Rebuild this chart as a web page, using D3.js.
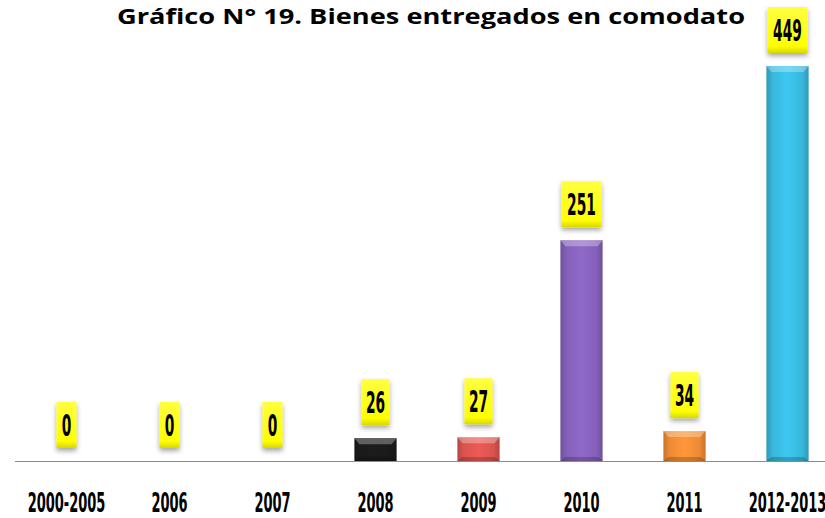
<!DOCTYPE html>
<html><head><meta charset="utf-8">
<script src="https://cdn.jsdelivr.net/npm/d3@7"></script>
<style>html,body{margin:0;padding:0;background:#fff;overflow:hidden}</style>
</head><body>
<svg id="chart" width="825" height="518"></svg>
<script>
const categories = ["2000-2005","2006","2007","2008","2009","2010","2011","2012-2013"];
const values = [0,0,0,26,27,251,34,449];
const barColors = ["#1a1a1a","#1a1a1a","#1a1a1a","#1a1a1a","#d9534f","#8460b8","#ee8a35","#38b7dc"];
const title = "Gráfico N° 19. Bienes entregados en comodato";

const svg = d3.select("#chart");
const W = 825, H = 518;
const x = d3.scaleBand().domain(categories).range([15, 839]).paddingInner(0.59).paddingOuter(0.295);
const y = d3.scaleLinear().domain([0, 449]).range([461, 66]);

const defs = svg.append("defs");
categories.forEach((c, i) => {
  const base = d3.color(barColors[i]);
  const g = defs.append("linearGradient").attr("id", "g" + i).attr("x1", 0).attr("x2", 1).attr("y1", 0).attr("y2", 0);
  g.append("stop").attr("offset", "0%").attr("stop-color", base.darker(0.5));
  g.append("stop").attr("offset", "15%").attr("stop-color", base);
  g.append("stop").attr("offset", "50%").attr("stop-color", base.brighter(0.25));
  g.append("stop").attr("offset", "85%").attr("stop-color", base);
  g.append("stop").attr("offset", "100%").attr("stop-color", base.darker(0.5));
});
const yg = defs.append("linearGradient").attr("id", "yel").attr("x1", 0).attr("x2", 0).attr("y1", 0).attr("y2", 1);
yg.append("stop").attr("offset", "0%").attr("stop-color", "#ffff40");
yg.append("stop").attr("offset", "85%").attr("stop-color", "#ffff00");
yg.append("stop").attr("offset", "100%").attr("stop-color", "#d8d800");
const sh = defs.append("filter").attr("id", "sh").attr("x", "-50%").attr("y", "-50%").attr("width", "200%").attr("height", "200%");
sh.append("feDropShadow").attr("dx", 0).attr("dy", 3).attr("stdDeviation", 2.5).attr("flood-color", "#000").attr("flood-opacity", 0.35);

// title
svg.append("text")
  .attr("x", 431).attr("y", 24)
  .attr("text-anchor", "middle")
  .attr("font-family", "'Open Sans', 'DejaVu Sans', sans-serif")
  .attr("font-weight", "bold").attr("font-size", 21)
  .attr("textLength", 628).attr("lengthAdjust", "spacingAndGlyphs")
  .text(title);

// axis line
svg.append("line").attr("x1", 15).attr("x2", W).attr("y1", y(0) + 0.5).attr("y2", y(0) + 0.5)
  .attr("stroke", "#8c8c8c").attr("stroke-width", 1.2);

// bars
const bars = svg.append("g").selectAll("g").data(categories).join("g");
bars.append("rect")
  .attr("x", d => x(d)).attr("width", x.bandwidth())
  .attr("y", (d, i) => y(values[i])).attr("height", (d, i) => y(0) - y(values[i]))
  .attr("fill", (d, i) => values[i] > 0 ? `url(#g${i})` : "none");
bars.filter((d, i) => values[i] > 0).append("path")
  .attr("d", (d) => {
    const i = categories.indexOf(d);
    const x0 = x(d), x1 = x(d) + x.bandwidth(), t = y(values[i]);
    const h = Math.min(6, (y(0) - t) / 2);
    return `M${x0},${t}L${x1},${t}L${x1 - 5},${t + h}L${x0 + 5},${t + h}Z`;
  })
  .attr("fill", "#fff").attr("opacity", 0.3);
bars.filter((d, i) => values[i] > 0).append("path")
  .attr("d", (d) => {
    const x0 = x(d), x1 = x(d) + x.bandwidth(), b = y(0);
    return `M${x0},${b}L${x1},${b}L${x1 - 5},${b - 4}L${x0 + 5},${b - 4}Z`;
  })
  .attr("fill", "#000").attr("opacity", 0.2);

// labels
const lab = svg.append("g").selectAll("g").data(categories).join("g")
  .attr("transform", (d, i) => `translate(${x(d) + x.bandwidth() / 2},${y(values[i]) - 13})`);
lab.append("rect")
  .attr("x", (d, i) => { const n = String(values[i]).length; return -(n === 1 ? 10 : n === 2 ? 14 : 20); })
  .attr("width", (d, i) => { const n = String(values[i]).length; return n === 1 ? 20 : n === 2 ? 28 : 40; })
  .attr("y", -46).attr("height", 46)
  .attr("fill", "url(#yel)").attr("filter", "url(#sh)");
lab.append("text")
  .attr("transform", "translate(0,-12) scale(0.46,1)")
  .attr("text-anchor", "middle")
  .attr("font-family", "'DejaVu Sans', sans-serif").attr("font-weight", "bold").attr("font-size", 30)
  .attr("fill", "#000")
  .text((d, i) => values[i]);

// category labels
svg.append("g").selectAll("text").data(categories).join("text")
  .attr("transform", d => `translate(${x(d) + x.bandwidth() / 2},512) scale(0.5,1)`)
  .attr("text-anchor", "middle")
  .attr("font-family", "'DejaVu Sans', sans-serif").attr("font-weight", "bold").attr("font-size", 26)
  .attr("fill", "#000")
  .text(d => d);
</script>
</body></html>
